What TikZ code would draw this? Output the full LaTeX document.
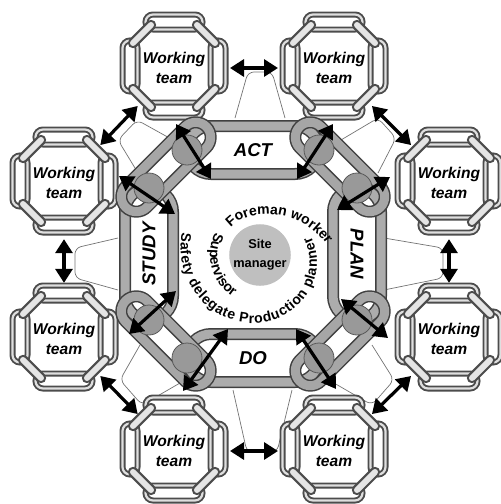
\documentclass[tikz,border=0pt]{standalone}
\usepackage{fontspec}
\setmainfont{Liberation Sans}
\usetikzlibrary{arrows.meta,calc,shapes.misc,decorations.text}

\tikzset{
  ringlink/.style={rounded rectangle, draw=black!75, line width=0.75pt,
    double=gray!65, double distance=4.5pt, inner sep=0pt,
    minimum width=66pt, minimum height=24pt},
  cornerlink/.style={ringlink, minimum width=57pt, minimum height=15pt, double=gray!70},
  knot/.style={circle, draw=black!65, fill=gray!80, line width=0.4pt,
    minimum size=15pt, inner sep=0pt},
  teamring/.style={rounded rectangle, draw=black!70, line width=0.95pt,
    double=gray!25, double distance=1.1pt, inner sep=0pt,
    minimum width=28.5pt, minimum height=7.5pt},
  teamjoint/.style={draw=black!70, line width=5.2pt, line cap=round,
    postaction={draw=gray!20, line width=3pt}},
  tent/.style={draw=black!55, line width=0.35pt, rounded corners=3pt},
  dblarrow/.style={{Triangle[length=7pt,width=8.5pt]}-{Triangle[length=7pt,width=8.5pt]},
    line width=1.6pt},
  teamlabel/.style={font=\bfseries\itshape\fontsize{7.8}{10}\selectfont, align=center},
  phaselabel/.style={font=\bfseries\itshape\fontsize{9.3}{10}\selectfont},
  hub/.style={circle, fill=gray!50, minimum size=30pt, inner sep=0pt, align=center,
    font=\bfseries\fontsize{6.4}{9.5}\selectfont},
  spiral/.style={decorate, decoration={text along path, text align=left,
    text={|\bfseries\fontsize{7}{8}\selectfont|#1}}},
  team/.pic={
    \node[teamring] (-n) at (0,-44) {};
    \node[teamring] (-s) at (0,44) {};
    \node[teamring, rotate=90, minimum width=25.5pt] (-w) at (-44,0) {};
    \node[teamring, rotate=90, minimum width=25.5pt] (-e) at (44,0) {};
    \draw[teamjoint] (-23,-41) -- (-41,-23);
    \draw[teamjoint] (23,-41) -- (41,-23);
    \draw[teamjoint] (-23,41) -- (-41,23);
    \draw[teamjoint] (23,41) -- (41,23);
    \node[teamlabel] (-label) at (0,2) {Working\\team};
  },
}

\begin{document}
\begin{tikzpicture}[x=0.5pt, y=-0.5pt,
    declare function={rfw(\a)=40+0.0033*max(0,100-\a)^2;
                      rsp(\a)=81-0.125*(\a-164);}]
  \useasboundingbox (0,0) rectangle (500,504);

  % strings between the big chain and the teams
  \draw[tent] (235,118) -- (248,72) -- (272,72) -- (285,118);
  \draw[tent] (233,390) -- (247,452) -- (277,452) -- (292,390);
  \draw[tent] (118,238) -- (75,248) -- (75,278) -- (118,290);
  \draw[tent] (384,238) -- (443,248) -- (443,278) -- (384,290);
  \draw[tent] (173,140) -- (137,120) -- (118,140) -- (138,173);
  \draw[tent] (341,140) -- (378,118) -- (396,138) -- (378,173);
  \draw[tent] (180,383) -- (142,405) -- (120,380) -- (140,345);
  \draw[tent] (334,383) -- (372,405) -- (394,380) -- (372,345);

  % working teams
  \pic (t1) at (174,66) {team};
  \pic (t2) at (334,66) {team};
  \pic (t3) at (449,181) {team};
  \pic (t4) at (449,337) {team};
  \pic (t5) at (334,449) {team};
  \pic (t6) at (174,449) {team};
  \pic (t7) at (64,337) {team};
  \pic (t8) at (64,181) {team};

  % big chain
  \coordinate (c) at (253,254);
  \node[ringlink, phaselabel] (act) at (253,150) {ACT};
  \node[ringlink, phaselabel] (do) at (253,358) {DO};
  \node[ringlink, phaselabel, rotate=90] (study) at (149,254) {STUDY};
  \node[ringlink, phaselabel, rotate=-90] (plan) at (357,254) {PLAN};

  \node[cornerlink, rotate=45] (tllink) at (166,167) {};
  \node[cornerlink, rotate=-45] (trlink) at (340,167) {};
  \node[cornerlink, rotate=45] (brlink) at (340,341) {};
  \node[cornerlink, rotate=-45] (bllink) at (166,341) {};

  \node[knot] (k1) at ($(c)+(-66,-104)$) {};
  \node[knot] (k2) at ($(c)+(-104,-66)$) {};
  \node[knot] (k3) at ($(c)+(66,-104)$) {};
  \node[knot] (k4) at ($(c)+(104,-66)$) {};
  \node[knot] (k5) at ($(c)+(-66,104)$) {};
  \node[knot] (k6) at ($(c)+(-104,66)$) {};
  \node[knot] (k7) at ($(c)+(66,104)$) {};
  \node[knot] (k8) at ($(c)+(104,66)$) {};

  % centre
  \node[hub] (hub) at (260,255) {Site\\manager};
  \path[spiral={Foreman worker}] plot[domain=0:1, samples=60, variable=\t]
    ({260+rfw(137-140*\t)*cos(137-140*\t)}, {255-rfw(137-140*\t)*sin(137-140*\t)});
  \path[spiral={Supervisor}] plot[domain=153:245, samples=40, variable=\t]
    ({260+50*cos(\t)}, {255-50*sin(\t)});
  \path[spiral={Safety delegate Production planner},
        decoration={text align=fit to path}] plot[domain=164:380, samples=90, variable=\t]
    ({260+rsp(\t)*cos(\t)}, {255-rsp(\t)*sin(\t)});

  % arrows between teams
  \draw[dblarrow] ($(t1-label)!0.35!(t2-label)$) -- ($(t1-label)!0.65!(t2-label)$);
  \draw[dblarrow] ($(t2-label)!0.33!(t3-label)$) -- ($(t2-label)!0.67!(t3-label)$);
  \draw[dblarrow] ($(t3-label)!0.36!(t4-label)$) -- ($(t3-label)!0.64!(t4-label)$);
  \draw[dblarrow] ($(t4-label)!0.33!(t5-label)$) -- ($(t4-label)!0.67!(t5-label)$);
  \draw[dblarrow] ($(t5-label)!0.35!(t6-label)$) -- ($(t5-label)!0.65!(t6-label)$);
  \draw[dblarrow] ($(t6-label)!0.33!(t7-label)$) -- ($(t6-label)!0.67!(t7-label)$);
  \draw[dblarrow] ($(t7-label)!0.36!(t8-label)$) -- ($(t7-label)!0.64!(t8-label)$);
  \draw[dblarrow] ($(t8-label)!0.33!(t1-label)$) -- ($(t8-label)!0.67!(t1-label)$);

  % arrows across the corner links
  \coordinate (tl-a) at ($(c)+(-42,-75)$);  \coordinate (tl-A) at ($(c)+(-77,-130)$);
  \coordinate (tl-b) at ($(c)+(-78,-40)$);  \coordinate (tl-B) at ($(c)+(-134,-78)$);
  \coordinate (tr-a) at ($(c)+(44,-75)$);   \coordinate (tr-A) at ($(c)+(80,-130)$);
  \coordinate (tr-b) at ($(c)+(84,-44)$);   \coordinate (tr-B) at ($(c)+(137,-77)$);
  \coordinate (bl-a) at ($(c)+(-25,75)$);   \coordinate (bl-A) at ($(c)+(-70,137)$);
  \coordinate (bl-b) at ($(c)+(-77,37)$);   \coordinate (bl-B) at ($(c)+(-124,80)$);
  \coordinate (br-a) at ($(c)+(43,75)$);    \coordinate (br-A) at ($(c)+(83,135)$);
  \coordinate (br-b) at ($(c)+(88,45)$);    \coordinate (br-B) at ($(c)+(135,84)$);
  \draw[dblarrow] (tl-a) -- (tl-A);
  \draw[dblarrow] (tl-b) -- (tl-B);
  \draw[dblarrow] (tr-a) -- (tr-A);
  \draw[dblarrow] (tr-b) -- (tr-B);
  \draw[dblarrow] (bl-a) -- (bl-A);
  \draw[dblarrow] (bl-b) -- (bl-B);
  \draw[dblarrow] (br-a) -- (br-A);
  \draw[dblarrow] (br-b) -- (br-B);
\end{tikzpicture}
\end{document}
